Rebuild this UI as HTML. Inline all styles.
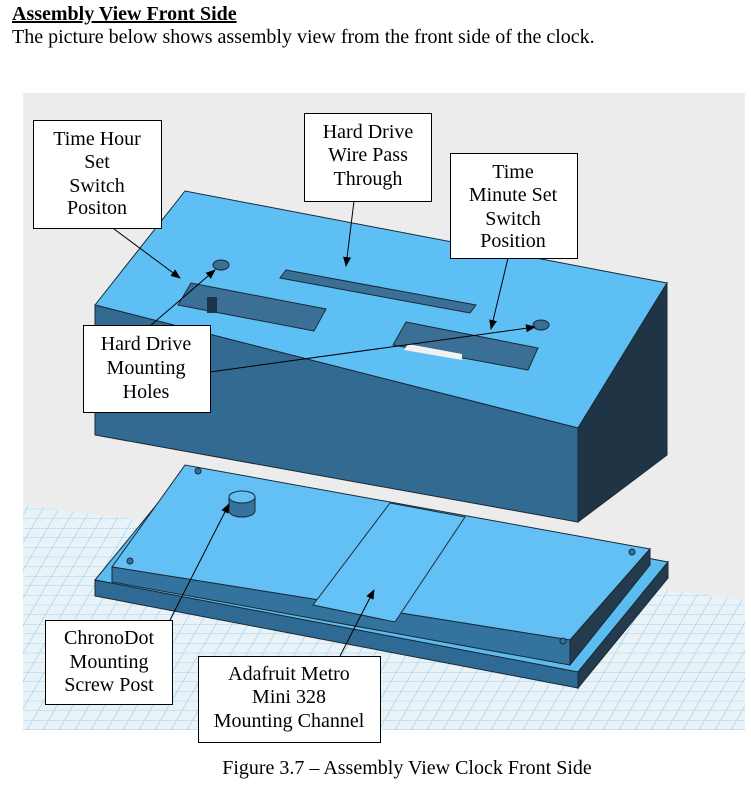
<!DOCTYPE html>
<html><head><style>
body{margin:0;background:#fff;width:751px;height:787px;overflow:hidden;font-family:"Liberation Serif",serif;}
</style></head><body>
<svg width="751" height="787" xmlns="http://www.w3.org/2000/svg" font-family="Liberation Serif, serif">
<defs>
<pattern id="g" width="16" height="16" patternUnits="userSpaceOnUse" patternTransform="skewX(-30) scale(1,0.6)">
<path d="M0 0H16M0 0V16" stroke="#98cdec" stroke-width="1.4" fill="none"/>
</pattern>
<marker id="a" markerWidth="10" markerHeight="8" refX="9" refY="4" orient="auto" markerUnits="userSpaceOnUse"><path d="M0 0L10 4L0 8z" fill="#000"/></marker>
</defs>
<text x="12" y="20" font-size="20" font-weight="bold" text-decoration="underline">Assembly View Front Side</text>
<text x="12" y="43" font-size="20">The picture below shows assembly view from the front side of the clock.</text>
<rect x="23" y="93" width="722" height="637" fill="#ececec"/>
<polygon points="23,505 745,600 745,730 23,730" fill="#e9f2f7"/>
<polygon points="23,505 745,600 745,730 23,730" fill="url(#g)"/>
<!-- base lower plate -->
<polygon points="95,580 185,470 668,562 578,672" fill="#5bbcf0" stroke="#1a2a35"/>
<polygon points="95,580 578,672 578,688 95,596" fill="#2f6a94" stroke="#1a2a35"/>
<polygon points="578,672 668,562 668,578 578,688" fill="#233b4d" stroke="#1a2a35"/>
<!-- upper plate -->
<polygon points="112,567 185,465 650,549 570,640" fill="#62c0f5" stroke="#1a2a35"/>
<polygon points="112,567 570,640 570,665 112,582" fill="#35739f" stroke="#1a2a35"/>
<polygon points="570,640 650,549 650,565 570,665" fill="#233b4d" stroke="#1a2a35"/>
<polygon points="390,503 465,517 395,622 313,605" fill="#64c2f7" stroke="#1a2a35"/>
<circle cx="198" cy="471" r="3" fill="#35739f" stroke="#1a2a35"/>
<circle cx="130" cy="561" r="3" fill="#35739f" stroke="#1a2a35"/>
<circle cx="632" cy="552" r="3" fill="#35739f" stroke="#1a2a35"/>
<circle cx="563" cy="641" r="3" fill="#35739f" stroke="#1a2a35"/>
<path d="M229,497 V511 A13,6 0 0 0 255,511 V497" fill="#35739f" stroke="#1a2a35"/>
<ellipse cx="242" cy="497" rx="13" ry="6" fill="#62c0f5" stroke="#1a2a35"/>
<!-- box -->
<polygon points="95,305 185,191 667,283 578,428" fill="#5ebff5" stroke="#1a2a35"/>
<polygon points="95,305 578,428 578,522 95,435" fill="#336a91" stroke="#1a2a35"/>
<polygon points="578,428 667,283 667,455 578,522" fill="#1f3445" stroke="#1a2a35"/>
<polygon points="191,283 326,309 314,331 178,305" fill="#3b6f96" stroke="#1a2a35"/>
<rect x="207" y="297" width="10" height="16" fill="#1f3445"/>
<polygon points="286,270 476,305 470,313 280,278" fill="#3b6f96" stroke="#1a2a35"/>
<polygon points="406,322 538,348 528,370 393,345" fill="#3b6f96" stroke="#1a2a35"/>
<polygon points="408,344 462,354 462,360 404,350" fill="#f2f2f2"/>
<ellipse cx="221" cy="265" rx="8" ry="5" fill="#3b6f96" stroke="#1a2a35"/>
<ellipse cx="541" cy="325" rx="8" ry="5" fill="#3b6f96" stroke="#1a2a35"/>
<!-- connectors -->
<g stroke="#000" stroke-width="1" fill="none">
<line x1="110" y1="226" x2="180" y2="278" marker-end="url(#a)"/>
<line x1="354" y1="201" x2="346" y2="266" marker-end="url(#a)"/>
<line x1="508" y1="258" x2="491" y2="329" marker-end="url(#a)"/>
<line x1="150" y1="326" x2="215" y2="270" marker-end="url(#a)"/>
<line x1="210" y1="372" x2="535" y2="327" marker-end="url(#a)"/>
<line x1="170" y1="620" x2="229" y2="504" marker-end="url(#a)"/>
<line x1="340" y1="656" x2="374" y2="590" marker-end="url(#a)"/>
</g>
<g fill="#fff" stroke="#000" stroke-width="1">
<rect x="33.5" y="120.5" width="128" height="108"/>
<rect x="304.5" y="113.5" width="127" height="88"/>
<rect x="450.5" y="153.5" width="127" height="105"/>
<rect x="83.5" y="325.5" width="127" height="87"/>
<rect x="45.5" y="620.5" width="127" height="84"/>
<rect x="198.5" y="656.5" width="182" height="86"/>
</g>
<g font-size="20" text-anchor="middle">
<text x="97" y="145">Time Hour</text><text x="97" y="168">Set</text><text x="97" y="192">Switch</text><text x="97" y="214">Positon</text>
<text x="368" y="138">Hard Drive</text><text x="368" y="161">Wire Pass</text><text x="368" y="185">Through</text>
<text x="513" y="178">Time</text><text x="513" y="201">Minute Set</text><text x="513" y="225">Switch</text><text x="513" y="247">Position</text>
<text x="146" y="350">Hard Drive</text><text x="146" y="374">Mounting</text><text x="146" y="398">Holes</text>
<text x="109" y="644">ChronoDot</text><text x="109" y="668">Mounting</text><text x="109" y="691">Screw Post</text>
<text x="289" y="680">Adafruit Metro</text><text x="289" y="703">Mini 328</text><text x="289" y="727">Mounting Channel</text>
<text x="407" y="774">Figure 3.7 – Assembly View Clock Front Side</text>
</g>
</svg>
</body></html>
